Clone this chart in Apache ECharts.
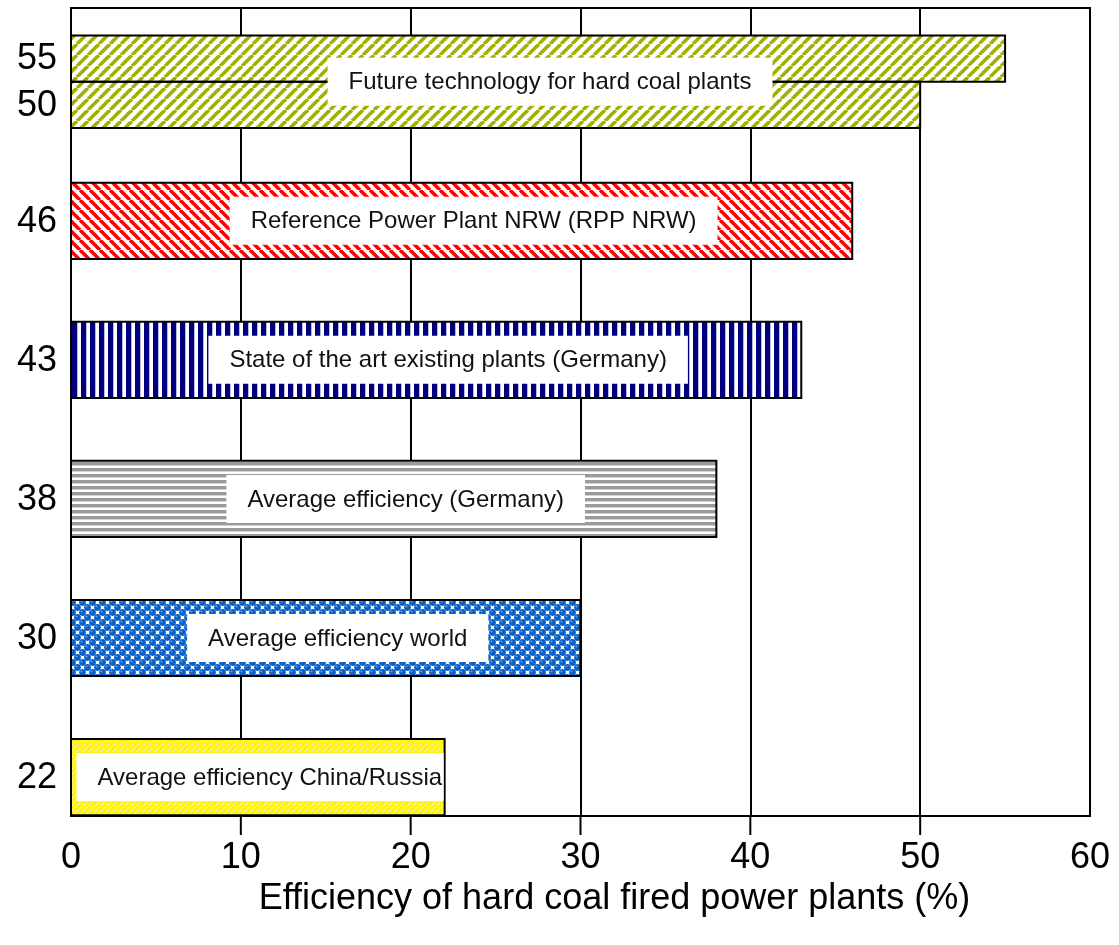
<!DOCTYPE html>
<html>
<head>
<meta charset="utf-8">
<script src="https://cdn.jsdelivr.net/npm/echarts@6/dist/echarts.min.js"></script>
<style>
  html, body { margin: 0; padding: 0; background: #fff; }
  #chart { width: 1119px; height: 945px; }
</style>
</head>
<body>
<div id="chart"></div>
<script>
// Rows from bottom to top
const categories = [
  'Average efficiency China/Russia',
  'Average efficiency world',
  'Average efficiency (Germany)',
  'State of the art existing plants (Germany)',
  'Reference Power Plant NRW (RPP NRW)',
  'Future technology for hard coal plants'
];
// Efficiency (%) per row; the top row holds two bars (upper, lower)
const efficiencyValues = [[22], [30], [38], [43], [46], [55, 50]];
const xTickValues = [0, 10, 20, 30, 40, 50, 60];
const axisTitle = 'Efficiency of hard coal fired power plants (%)';

const FONT = "'Liberation Sans', Arial, Helvetica, sans-serif";
const LABEL_SIZE = 24;
const ROW_MIN = -0.28;
const ROW_MAX = 5.53;

// Hatch fills drawn on small tiles
function tile(w, h, draw) {
  const c = document.createElement('canvas');
  c.width = w; c.height = h;
  const g = c.getContext('2d');
  draw(g, w, h);
  return { image: c, repeat: 'repeat' };
}
function diagonal(size, color, width, rising) {
  return tile(size, size, (g, s) => {
    g.fillStyle = '#fff'; g.fillRect(0, 0, s, s);
    g.strokeStyle = color; g.lineWidth = width;
    for (let k = -1; k <= 1; k++) {
      g.beginPath();
      if (rising) { g.moveTo(k * s, s); g.lineTo(k * s + s, 0); }
      else { g.moveTo(k * s, 0); g.lineTo(k * s + s, s); }
      g.stroke();
    }
  });
}
const fills = [
  // fine yellow
  tile(6, 6, (g) => {
    g.fillStyle = '#fdf31a'; g.fillRect(0, 0, 6, 6);
    g.fillStyle = '#fffbd0';
    g.fillRect(0, 0, 1, 1); g.fillRect(3, 3, 1, 1);
    g.fillRect(1, 4, 1, 1); g.fillRect(4, 1, 1, 1);
  }),
  // blue balls in a checker arrangement
  tile(10, 10, (g) => {
    g.fillStyle = '#fff'; g.fillRect(0, 0, 10, 10);
    const centres = [[2.5, 2.5], [7.5, 7.5]];
    for (const [cx, cy] of centres) {
      for (const dx of [-10, 0, 10]) for (const dy of [-10, 0, 10]) {
        g.fillStyle = '#0a5fc4';
        g.beginPath(); g.arc(cx + dx, cy + dy, 3.4, 0, Math.PI * 2); g.fill();
        g.fillStyle = '#5c9be6';
        g.beginPath(); g.arc(cx + dx - 1, cy + dy - 1, 1.1, 0, Math.PI * 2); g.fill();
      }
    }
  }),
  // grey horizontal lines
  tile(1, 6, (g) => {
    g.fillStyle = '#fff'; g.fillRect(0, 0, 1, 6);
    g.fillStyle = '#9a9a9a'; g.fillRect(0, 0, 1, 3);
    g.fillStyle = '#d2d2d2'; g.fillRect(0, 3, 1, 1);
  }),
  // navy vertical lines
  tile(9, 1, (g) => {
    g.fillStyle = '#fff'; g.fillRect(0, 0, 9, 1);
    g.fillStyle = '#00007e'; g.fillRect(0, 0, 5, 1);
    g.fillStyle = '#b8b8e0'; g.fillRect(5, 0, 1, 1);
  }),
  // red falling diagonals
  diagonal(10, '#ff0000', 3.6, false),
  // olive rising diagonals
  diagonal(11, '#a2b000', 3.6, true)
];

// text width for sizing the white label boxes
const measureCtx = document.createElement('canvas').getContext('2d');
function textWidth(str, size) {
  measureCtx.font = size + 'px ' + FONT;
  return measureCtx.measureText(str).width;
}

function renderBars(params, api) {
  const i = params.dataIndex;
  const vals = efficiencyValues[i];
  const n = vals.length;
  const rowPx = api.size([0, 1])[1];
  const groupH = rowPx * (n > 1 ? 0.666 : 0.548);
  const centre = api.coord([0, i]);
  const x0 = centre[0];
  const top = centre[1] - groupH / 2;
  const h = groupH / n;
  const children = [];
  const ends = vals.map((v) => api.coord([v, i])[0]);

  // outward tick marks under the inner gridlines (drawn once)
  if (i === 0) {
    xTickValues.slice(1, -1).forEach((t) => {
      const p = api.coord([t, ROW_MIN]);
      children.push({
        type: 'rect',
        shape: { x: p[0] - 1, y: p[1], width: 2, height: 19 },
        style: { fill: '#000' }
      });
    });
  }

  // hatched bars
  vals.forEach((v, j) => {
    children.push({
      type: 'rect',
      shape: { x: x0, y: top + j * h, width: ends[j] - x0, height: h },
      style: { fill: fills[i] }
    });
  });
  // outlines and value numbers at the left
  vals.forEach((v, j) => {
    const y = top + j * h;
    children.push({
      type: 'rect',
      shape: { x: x0, y: y, width: ends[j] - x0, height: h },
      style: { fill: 'none', stroke: '#000', lineWidth: 2 }
    });
    children.push({
      type: 'text',
      style: {
        text: String(v), x: x0 - 14, y: y + h / 2 + 1,
        align: 'right', verticalAlign: 'middle',
        fontSize: 36, fontFamily: FONT, fill: '#000'
      }
    });
  });

  // white label box kept inside the bar outline
  const maxV = Math.max.apply(null, vals);
  const labelX = api.coord([maxV / 2, i])[0] + 12;
  const boxW = textWidth(categories[i], LABEL_SIZE) + 42;
  const boxH = 48;
  const bx1 = Math.max(x0 + 1, labelX - boxW / 2);
  const bx2 = Math.min(Math.min.apply(null, ends) - 1, labelX + boxW / 2);
  children.push({
    type: 'rect',
    shape: { x: bx1, y: centre[1] - boxH / 2, width: bx2 - bx1, height: boxH },
    style: { fill: '#fff' }
  });
  children.push({
    type: 'text',
    style: {
      text: categories[i], x: labelX, y: centre[1] + 1,
      align: 'center', verticalAlign: 'middle',
      fontSize: LABEL_SIZE, fontFamily: FONT, fill: '#111'
    }
  });

  return { type: 'group', children: children };
}

const chart = echarts.init(document.getElementById('chart'), null, { renderer: 'canvas' });
chart.setOption({
  animation: false,
  backgroundColor: '#fff',
  grid: {
    left: 71, right: 29, top: 8, bottom: 129,
    show: true, borderColor: '#000', borderWidth: 2, backgroundColor: 'transparent'
  },
  xAxis: {
    type: 'value',
    min: xTickValues[0],
    max: xTickValues[xTickValues.length - 1],
    interval: 10,
    axisLine: { show: true, onZero: false, lineStyle: { color: '#000', width: 2 } },
    axisTick: { show: false },
    axisLabel: { fontSize: 36, fontFamily: FONT, color: '#000', margin: 24 },
    splitLine: { show: true, lineStyle: { color: '#000', width: 2 } },
    name: axisTitle,
    nameLocation: 'middle',
    nameGap: 63,
    nameTextStyle: { fontSize: 36, fontFamily: FONT, color: '#000', padding: [0, 0, 0, 68] }
  },
  yAxis: {
    type: 'value',
    min: ROW_MIN,
    max: ROW_MAX,
    show: false
  },
  series: [
    {
      type: 'custom',
      renderItem: renderBars,
      encode: { x: 1, y: 0 },
      data: categories.map((c, i) => [i, Math.max.apply(null, efficiencyValues[i])]),
      clip: false
    }
  ]
});
</script>
</body>
</html>
